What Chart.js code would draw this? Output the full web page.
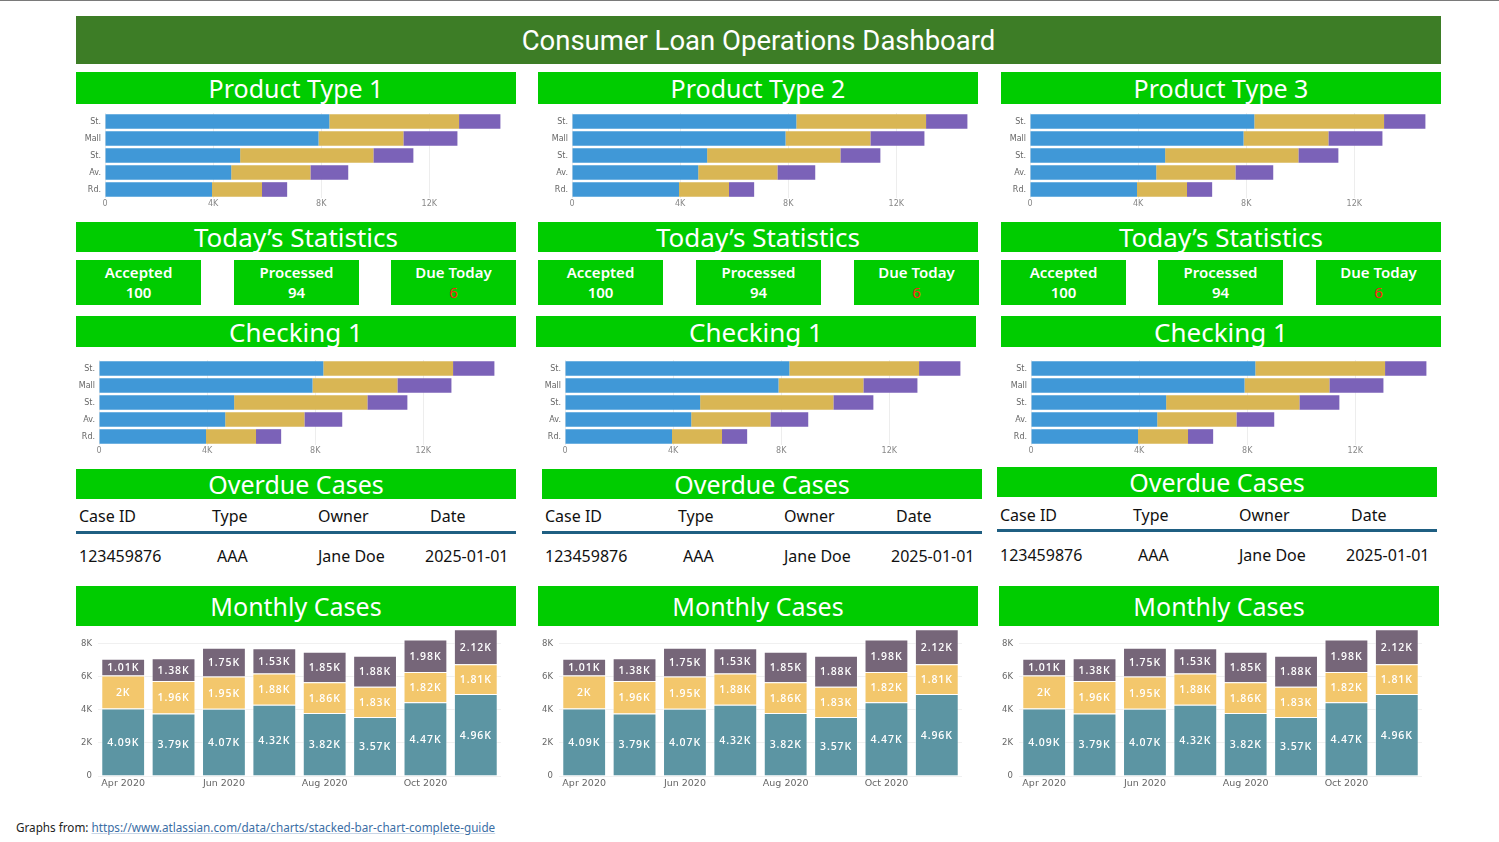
<!DOCTYPE html>
<html><head><meta charset="utf-8">
<script src="https://cdn.jsdelivr.net/npm/chart.js@4"></script>
<style>
body{margin:0;width:1499px;height:842px;position:relative;background:#fff;font-family:"Noto Sans",sans-serif;overflow:hidden}
.a{position:absolute;box-sizing:border-box}
.topline{left:0;top:0;width:1499px;height:1px;background:#7a7a7a}
.hdr{background:#3d7d26;color:#fff;font-family:Roboto,sans-serif;font-size:27.5px;display:flex;align-items:center;justify-content:center}
.sec{background:#00cc00;color:#fff;display:flex;align-items:center;justify-content:center;font-size:25px;line-height:1;white-space:nowrap}
.stat{background:#00cc00;color:#fff;text-align:center;font-size:15px;font-weight:600;line-height:20px;padding-top:2px}
.red{color:#ff1a1a;font-weight:400}
.th,.td{font-size:16px;color:#111;white-space:nowrap;line-height:20px}
.rule{height:3px;background:#1f5f82}
.foot{left:16px;top:819px;font-size:11.7px;color:#222;white-space:nowrap}
.foot a{color:#3b6ea5;text-decoration:underline;text-decoration-color:#c9d6e6}
canvas{position:absolute}
</style>
</head><body>
<div class="a topline"></div>
<div class="a hdr" style="left:76px;top:16px;width:1365px;height:48px">Consumer Loan Operations Dashboard</div>
<div class="a foot">Graphs from: <a href="#">https://www.atlassian.com/data/charts/stacked-bar-chart-complete-guide</a></div>
<script>
// ---- data ----
const locations = ['St.', 'Mall', 'St.', 'Av.', 'Rd.'];
const locBlue = [8300, 7900, 5000, 4670, 3960];
const locGold = [4800, 3140, 4930, 2930, 1850];
const locPurple = [1530, 2000, 1480, 1400, 930];
const hTicks = [0, 4000, 8000, 12000];

const months = ['Apr 2020', 'May 2020', 'Jun 2020', 'Jul 2020', 'Aug 2020', 'Sep 2020', 'Oct 2020', 'Nov 2020'];
const monthlyBase = [4090, 3790, 4070, 4320, 3820, 3570, 4470, 4960];
const monthlyMid = [2000, 1960, 1950, 1880, 1860, 1830, 1820, 1810];
const monthlyTop = [1010, 1380, 1750, 1530, 1850, 1880, 1980, 2120];
const mTicks = [0, 2000, 4000, 6000, 8000];

const statLabels = ['Accepted', 'Processed', 'Due Today'];
const statValues = [100, 94, 6];
const tableHeader = ['Case ID', 'Type', 'Owner', 'Date'];
const tableRow = ['123459876', 'AAA', 'Jane Doe', '2025-01-01'];
const panelTitles = ['Product Type 1', 'Product Type 2', 'Product Type 3'];

// ---- layout ----
const cols = [
  {x:76, prodL:105, chkBar:76, chkL:99, ovBar:76, ovY:469, thX:[79,212,318,430], tdX:[79,217,318,425], ruleY:531, thY:506, tdY:546, mBar:76, mL:98, stats:[76,234,391]},
  {x:538, prodL:572, chkBar:536, chkL:565, ovBar:542, ovY:469, thX:[545,678,784,896], tdX:[545,683,784,891], ruleY:531, thY:506, tdY:546, mBar:538, mL:559, stats:[538,696,854]},
  {x:1001, prodL:1030, chkBar:1001, chkL:1031, ovBar:997, ovY:467, thX:[1000,1133,1239,1351], tdX:[1000,1138,1239,1346], ruleY:529, thY:505, tdY:545, mBar:999, mL:1019, stats:[1001,1158,1316]}
];

function el(cls, style, html){
  const d = document.createElement('div');
  d.className = 'a ' + cls;
  Object.assign(d.style, style);
  d.innerHTML = html;
  document.body.appendChild(d);
  return d;
}
function px(v){return v + 'px';}
function canvasAt(l, t, w, h){
  const c = document.createElement('canvas');
  c.width = w; c.height = h;
  c.style.left = px(l); c.style.top = px(t);
  c.style.width = px(w); c.style.height = px(h);
  document.body.appendChild(c);
  return c;
}
const kfmt = v => v === 0 ? '0' : (parseFloat((v / 1000).toFixed(2)) + 'K');
const noPadV = s => { s.paddingTop = 0; s.paddingBottom = 0; };
const noPadH = s => { s.paddingLeft = 0; s.paddingRight = 0; };

const labelPlugin = {
  id: 'segLabels',
  afterDatasetsDraw(chart, args, opts){
    if (!opts || !opts.show) return;
    const ctx = chart.ctx;
    ctx.save();
    ctx.fillStyle = '#fff';
    ctx.font = '600 10.5px "Open Sans"';
    ctx.textAlign = 'center';
    ctx.textBaseline = 'middle';
    try { ctx.letterSpacing = '0.9px'; } catch(e){}
    chart.data.datasets.forEach((ds, di) => {
      const meta = chart.getDatasetMeta(di);
      meta.data.forEach((bar, i) => {
        const p = bar.getCenterPoint();
        ctx.fillText(kfmt(ds.data[i]), p.x, p.y + 1);
      });
    });
    ctx.restore();
  }
};

function hbar(areaLeft, areaTop){
  const yw = 35, w = 400, h = 85, xh = 13;
  const c = canvasAt(areaLeft - yw, areaTop, yw + w + 2, h + xh);
  new Chart(c, {
    type: 'bar',
    data: {
      labels: locations,
      datasets: [
        {data: locBlue, backgroundColor: '#4098d7'},
        {data: locGold, backgroundColor: '#d9b654'},
        {data: locPurple, backgroundColor: '#7b62b8'}
      ].map(d => Object.assign(d, {barPercentage: 0.86, categoryPercentage: 1, borderWidth: 0}))
    },
    options: {
      indexAxis: 'y', responsive: false, animation: false, devicePixelRatio: 1,
      layout: {padding: {left: 0, right: 2, top: 0, bottom: 0}},
      plugins: {legend: {display: false}, tooltip: {enabled: false}},
      scales: {
        x: {stacked: true, min: 0, max: 14800,
            afterBuildTicks: s => { s.ticks = hTicks.map(v => ({value: v})); },
            afterFit: s => { s.height = xh; noPadH(s); },
            ticks: {callback: v => kfmt(v), font: {size: 8, family: 'DejaVu Sans'}, color: '#888', padding: 1, maxRotation: 0},
            grid: {color: '#ededed', drawTicks: false}, border: {display: false}},
        y: {stacked: true,
            afterFit: s => { s.width = yw; noPadV(s); },
            ticks: {font: {size: 8, family: 'DejaVu Sans'}, color: '#666', padding: 4},
            grid: {display: false, drawTicks: false}, border: {display: false}}
      }
    }
  });
}

function monthly(areaLeft){
  const yw = 30, w = 403, top = 629, h = 147, xh = 16;
  const c = canvasAt(areaLeft - yw, top, yw + w, h + xh);
  new Chart(c, {
    type: 'bar',
    plugins: [labelPlugin],
    data: {
      labels: months,
      datasets: [
        {data: monthlyBase, backgroundColor: '#5c95a3'},
        {data: monthlyMid, backgroundColor: '#f3c76c'},
        {data: monthlyTop, backgroundColor: '#766679'}
      ].map(d => Object.assign(d, {barPercentage: 0.87, categoryPercentage: 1, borderWidth: 1, borderColor: 'rgba(255,255,255,0.55)'}))
    },
    options: {
      responsive: false, animation: false, devicePixelRatio: 1,
      layout: {padding: 0},
      plugins: {legend: {display: false}, tooltip: {enabled: false}, segLabels: {show: true}},
      scales: {
        y: {stacked: true, min: 0, max: 8900,
            afterBuildTicks: s => { s.ticks = mTicks.map(v => ({value: v})); },
            afterFit: s => { s.width = yw; noPadV(s); },
            ticks: {callback: v => kfmt(v), font: {size: 8.5, family: 'DejaVu Sans'}, color: '#666', padding: 6},
            grid: {color: '#f0f0f0', drawTicks: false}, border: {display: false}},
        x: {stacked: true,
            afterFit: s => { s.height = xh; noPadH(s); },
            ticks: {autoSkip: false, maxRotation: 0, callback: (v, i) => i % 2 === 0 ? months[i] : '',
                    font: {size: 9.5, family: 'DejaVu Sans'}, color: '#666', padding: 2},
            grid: {display: false, drawTicks: false}, border: {display: false}}
      }
    }
  });
}

cols.forEach((c, ci) => {
  el('sec', {left: px(c.x), top: '72px', width: '440px', height: '32px'}, panelTitles[ci]);
  hbar(c.prodL, 113);
  el('sec', {left: px(c.x), top: '222px', width: '440px', height: '30px', fontSize: '26px'}, 'Today\u2019s Statistics');
  c.stats.forEach((sx, si) => {
    const val = si === 2 ? '<span class="red">' + statValues[si] + '</span>' : statValues[si];
    el('stat', {left: px(sx), top: '260px', width: '125px', height: '45px'}, statLabels[si] + '<br>' + val);
  });
  el('sec', {left: px(c.chkBar), top: '316px', width: '440px', height: '31px', fontSize: '26px'}, 'Checking 1');
  hbar(c.chkL, 360);
  el('sec', {left: px(c.ovBar), top: px(c.ovY), width: '440px', height: '30px'}, 'Overdue Cases');
  tableHeader.forEach((t, i) => el('th', {left: px(c.thX[i]), top: px(c.thY)}, t));
  el('rule', {left: px(c.ovBar), top: px(c.ruleY), width: '440px'}, '');
  tableRow.forEach((t, i) => el('td', {left: px(c.tdX[i]), top: px(c.tdY)}, t));
  el('sec', {left: px(c.mBar), top: '586px', width: '440px', height: '40px'}, 'Monthly Cases');
  monthly(c.mL);
});
</script>
</body></html>
